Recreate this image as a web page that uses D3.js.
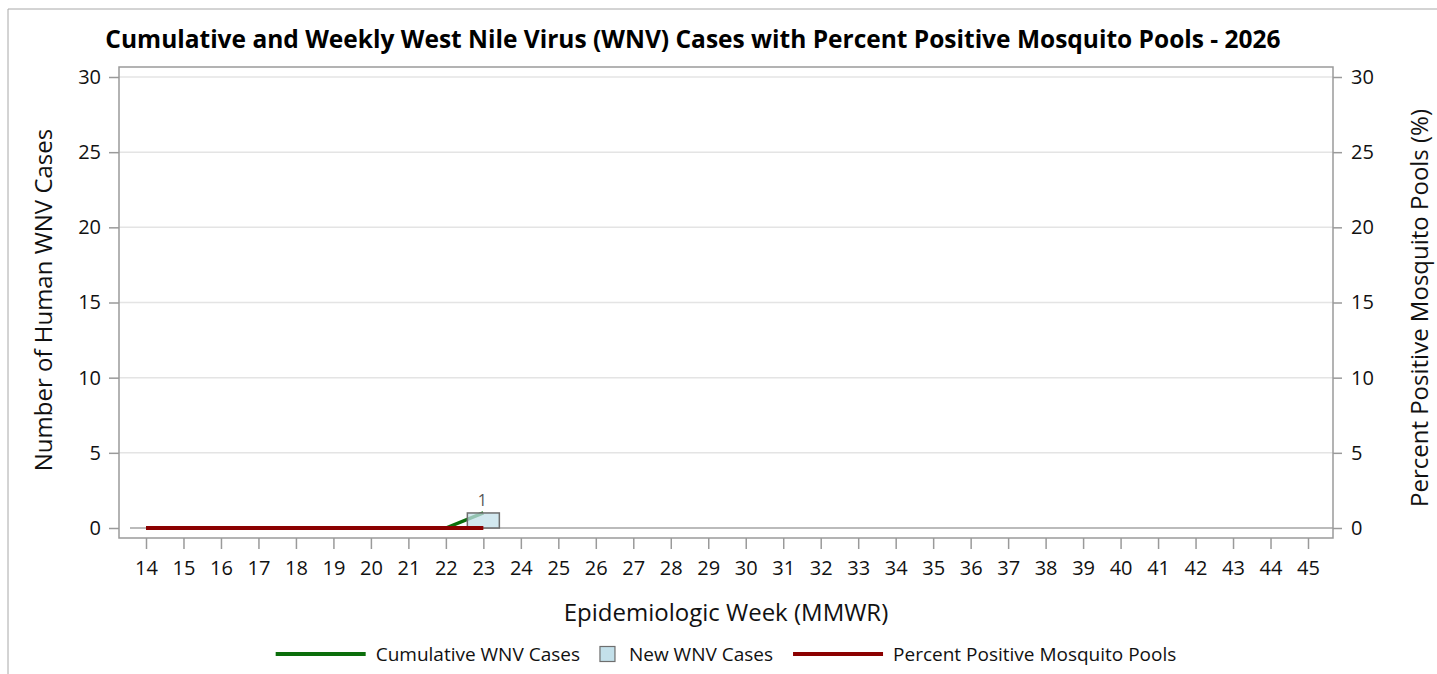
<!DOCTYPE html>
<html>
<head>
<meta charset="utf-8">
<script src="https://cdn.jsdelivr.net/npm/d3@7"></script>
<style>
  body { margin: 0; background: #fff; }
  svg { display: block; }
  text { font-family: "Open Sans", "Noto Sans", sans-serif; fill: #111; }
</style>
</head>
<body>
<svg id="chart" width="1437" height="674"></svg>
<script>
// epidemiologic weeks on the x axis
let weeks = [14, 15, 16, 17, 18, 19, 20, 21, 22, 23, 24, 25, 26, 27, 28, 29,
             30, 31, 32, 33, 34, 35, 36, 37, 38, 39, 40, 41, 42, 43, 44, 45]

// weeks with reported data so far
let dataWeeks  = [14, 15, 16, 17, 18, 19, 20, 21, 22, 23]
let cumulative = [0, 0, 0, 0, 0, 0, 0, 0, 0, 1]
let newCases   = [0, 0, 0, 0, 0, 0, 0, 0, 0, 1]
let pctPos     = [0, 0, 0, 0, 0, 0, 0, 0, 0, 0]

let yTicks = [0, 5, 10, 15, 20, 25, 30]

let title = "Cumulative and Weekly West Nile Virus (WNV) Cases with Percent Positive Mosquito Pools - 2026"

let green = "#0b6e0b"
let red = "#8b0000"
let barFill = "#c3e0ea"
let axisCol = "#9a9a9a"

let svg = d3.select("#chart")

let plot = { left: 119, right: 1333, top: 67, bottom: 538 }

let x = d3.scalePoint()
    .domain(weeks)
    .range([146, 1308])

let y = d3.scaleLinear()
    .domain([0, 30])
    .range([528, 77])

let y2 = d3.scaleLinear()
    .domain([0, 30])
    .range([528, 77])

let barW = 32

// outer frame (left + top only)
svg.append("path")
    .attr("d", "M8,674 L8,9 L1437,9")
    .attr("fill", "none")
    .attr("stroke", "#a8a8a8")
    .attr("stroke-width", 1)

// title
svg.append("text")
    .attr("x", 693)
    .attr("y", 48)
    .attr("text-anchor", "middle")
    .style("font-size", "24.5px")
    .style("font-weight", "bold")
    .style("fill", "#000")
    .text(title)

// grid lines
svg.append("g")
    .selectAll("line")
    .data(yTicks.filter(d => d > 0))
    .enter()
    .append("line")
    .attr("x1", plot.left)
    .attr("x2", plot.right)
    .attr("y1", d => y(d))
    .attr("y2", d => y(d))
    .attr("stroke", "#e4e4e4")
    .attr("stroke-width", 1.5)

// zero reference line
svg.append("line")
    .attr("x1", x(weeks[0]) - barW / 2)
    .attr("x2", plot.right)
    .attr("y1", y(0))
    .attr("y2", y(0))
    .attr("stroke", "#a5a5a5")
    .attr("stroke-width", 1.5)

// plot frame
svg.append("rect")
    .attr("x", plot.left)
    .attr("y", plot.top)
    .attr("width", plot.right - plot.left)
    .attr("height", plot.bottom - plot.top)
    .attr("fill", "none")
    .attr("stroke", axisCol)
    .attr("stroke-width", 1.5)

// axes
let xAxis = svg.append("g")
    .attr("transform", `translate(0,${plot.bottom})`)
    .call(d3.axisBottom(x).tickSize(11).tickPadding(12))
xAxis.select(".domain").remove()

let yAxis = svg.append("g")
    .attr("transform", `translate(${plot.left},0)`)
    .call(d3.axisLeft(y).tickValues(yTicks).tickSize(10).tickPadding(8))
yAxis.select(".domain").remove()

let y2Axis = svg.append("g")
    .attr("transform", `translate(${plot.right},0)`)
    .call(d3.axisRight(y2).tickValues(yTicks).tickSize(9).tickPadding(9))
y2Axis.select(".domain").remove()

svg.selectAll(".tick line").attr("stroke", axisCol).attr("stroke-width", 1.5)
svg.selectAll(".tick text")
    .style("font-size", "20px")
    .style("font-family", "'Open Sans', sans-serif")
    .style("fill", "#111")

// axis titles
svg.append("text")
    .attr("x", 726)
    .attr("y", 621)
    .attr("text-anchor", "middle")
    .style("font-size", "24px")
    .text("Epidemiologic Week (MMWR)")

svg.append("text")
    .attr("transform", "translate(52,300) rotate(-90)")
    .attr("text-anchor", "middle")
    .style("font-size", "24px")
    .text("Number of Human WNV Cases")

svg.append("text")
    .attr("transform", "translate(1428,308) rotate(-90)")
    .attr("text-anchor", "middle")
    .style("font-size", "24px")
    .text("Percent Positive Mosquito Pools (%)")

// series
let rows = dataWeeks.map((w, i) => ({ week: w, cum: cumulative[i], n: newCases[i], pct: pctPos[i] }))

svg.append("path")
    .datum(rows)
    .attr("d", d3.line().x(d => x(d.week)).y(d => y(d.cum)))
    .attr("fill", "none")
    .attr("stroke", green)
    .attr("stroke-width", 3.5)

let bars = rows.filter(d => d.n > 0)

svg.append("g")
    .selectAll("rect")
    .data(bars)
    .enter()
    .append("rect")
    .attr("x", d => x(d.week) - barW / 2)
    .attr("y", d => y(d.n))
    .attr("width", barW)
    .attr("height", d => y(0) - y(d.n))
    .attr("fill", barFill)
    .attr("fill-opacity", 0.75)
    .attr("stroke", "#6e6e6e")
    .attr("stroke-width", 1.5)

svg.append("g")
    .selectAll("text")
    .data(bars)
    .enter()
    .append("text")
    .attr("x", d => x(d.week) - 1)
    .attr("y", d => y(d.n) - 7)
    .attr("text-anchor", "middle")
    .style("font-size", "16px")
    .style("fill", "#555")
    .text(d => d.n)

svg.append("path")
    .datum(rows)
    .attr("d", d3.line().x(d => x(d.week)).y(d => y2(d.pct)))
    .attr("fill", "none")
    .attr("stroke", red)
    .attr("stroke-width", 4)

// legend
let legend = svg.append("g")
let lx = 0
let ly = 654
let items = [
    { type: "line", color: green, label: "Cumulative WNV Cases" },
    { type: "box", color: barFill, label: "New WNV Cases" },
    { type: "line", color: red, label: "Percent Positive Mosquito Pools" }
]
items.forEach(it => {
    if (it.type == "line") {
        legend.append("line")
            .attr("x1", lx).attr("x2", lx + 90)
            .attr("y1", ly).attr("y2", ly)
            .attr("stroke", it.color)
            .attr("stroke-width", 4)
        lx += 100
    } else {
        legend.append("rect")
            .attr("x", lx).attr("y", ly - 7.5)
            .attr("width", 15).attr("height", 15)
            .attr("fill", it.color)
            .attr("stroke", "#6e6e6e")
            .attr("stroke-width", 1.2)
        lx += 29
    }
    let t = legend.append("text")
        .attr("x", lx)
        .attr("y", ly + 7)
        .style("font-size", "19px")
        .text(it.label)
    lx += t.node().getComputedTextLength() + 20
})
lx -= 20
legend.attr("transform", `translate(${726 - lx / 2},0)`)
</script>
</body>
</html>
